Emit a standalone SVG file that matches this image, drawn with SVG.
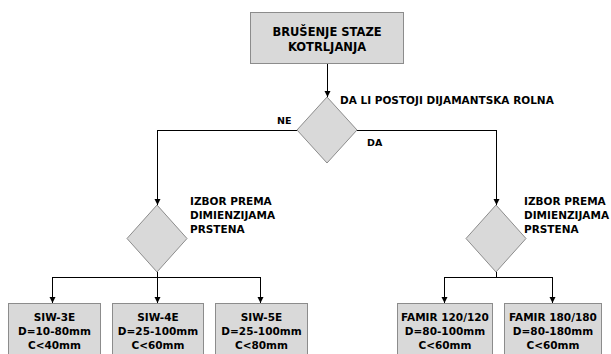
<svg xmlns="http://www.w3.org/2000/svg" width="611" height="354" viewBox="0 0 611 354">
  <defs>
    <marker id="arrow" viewBox="0 0 10 10" refX="10" refY="5" markerWidth="6" markerHeight="8" markerUnits="userSpaceOnUse" orient="auto">
      <path d="M0,0 L10,5 L0,10 Z" fill="#000"/>
    </marker>
    <style>
      .box { fill: #d9d9d9; stroke: #8c8c8c; stroke-width: 1; }
      .dia { fill: #d9d9d9; stroke: #8c8c8c; stroke-width: 1; }
      .wire { fill: none; stroke: #000; stroke-width: 1; }
      .arr { fill: none; stroke: #000; stroke-width: 1; marker-end: url(#arrow); }
      text { font-family: "DejaVu Sans", Verdana, sans-serif; font-weight: bold; font-size: 10.5px; fill: #000; }
      .c { text-anchor: middle; }
      .big { font-size: 11.5px; }
      .lbl { font-size: 9.5px; }
    </style>
  </defs>
  <rect width="611" height="354" fill="#fff"/>

  <g id="connectors">
    <path class="arr" d="M327.5,63 V97"/>
    <path class="wire" d="M297,130.5 H157.5"/>
    <path class="arr" d="M157.5,130 V205"/>
    <path class="wire" d="M357,130.5 H496.5"/>
    <path class="arr" d="M496.5,130 V205"/>
    <path class="wire" d="M52.5,277.5 H260.5 M157.5,272 V277"/>
    <path class="arr" d="M52.5,277 V303"/>
    <path class="arr" d="M157.5,277 V303"/>
    <path class="arr" d="M260.5,277 V303"/>
    <path class="wire" d="M444.5,277.5 H552.5 M496.5,272 V277"/>
    <path class="arr" d="M444.5,277 V303"/>
    <path class="arr" d="M552.5,277 V303"/>
    <text class="lbl" x="277" y="124">NE</text>
    <text class="lbl" x="367" y="146">DA</text>
  </g>

  <g id="start">
    <rect class="box" x="250.5" y="12.5" width="153" height="51"/>
    <text class="c big" x="327" y="36">BRUŠENJE STAZE</text>
    <text class="c big" x="327" y="51">KOTRLJANJA</text>
  </g>

  <g id="decision-rolna">
    <polygon class="dia" points="327,97 357,130 327,163 297,130"/>
    <text x="340" y="104">DA LI POSTOJI DIJAMANTSKA ROLNA</text>
  </g>

  <g id="decision-left">
    <polygon class="dia" points="157,205 187,238.5 157,272 127,238.5"/>
    <text x="190" y="205">IZBOR PREMA</text>
    <text x="190" y="219">DIMIENZIJAMA</text>
    <text x="190" y="233">PRSTENA</text>
  </g>

  <g id="decision-right">
    <polygon class="dia" points="496,205 526,238.5 496,272 466,238.5"/>
    <text x="524" y="205">IZBOR PREMA</text>
    <text x="524" y="219">DIMIENZIJAMA</text>
    <text x="524" y="233">PRSTENA</text>
  </g>

  <g id="siw-3e">
    <rect class="box" x="8.5" y="303.5" width="92" height="60"/>
    <text class="c" x="54.5" y="321">SIW-3E</text>
    <text class="c" x="54.5" y="335">D=10-80mm</text>
    <text class="c" x="54.5" y="349">C&lt;40mm</text>
  </g>

  <g id="siw-4e">
    <rect class="box" x="112.5" y="303.5" width="91" height="60"/>
    <text class="c" x="158" y="321">SIW-4E</text>
    <text class="c" x="158" y="335">D=25-100mm</text>
    <text class="c" x="158" y="349">C&lt;60mm</text>
  </g>

  <g id="siw-5e">
    <rect class="box" x="215.5" y="303.5" width="92" height="60"/>
    <text class="c" x="261.5" y="321">SIW-5E</text>
    <text class="c" x="261.5" y="335">D=25-100mm</text>
    <text class="c" x="261.5" y="349">C&lt;80mm</text>
  </g>

  <g id="famir-120">
    <rect class="box" x="397.5" y="303.5" width="95" height="60"/>
    <text class="c" x="445" y="321">FAMIR 120/120</text>
    <text class="c" x="445" y="335">D=80-100mm</text>
    <text class="c" x="445" y="349">C&lt;60mm</text>
  </g>

  <g id="famir-180">
    <rect class="box" x="504.5" y="303.5" width="97" height="60"/>
    <text class="c" x="553" y="321">FAMIR 180/180</text>
    <text class="c" x="553" y="335">D=80-180mm</text>
    <text class="c" x="553" y="349">C&lt;60mm</text>
  </g>
</svg>
